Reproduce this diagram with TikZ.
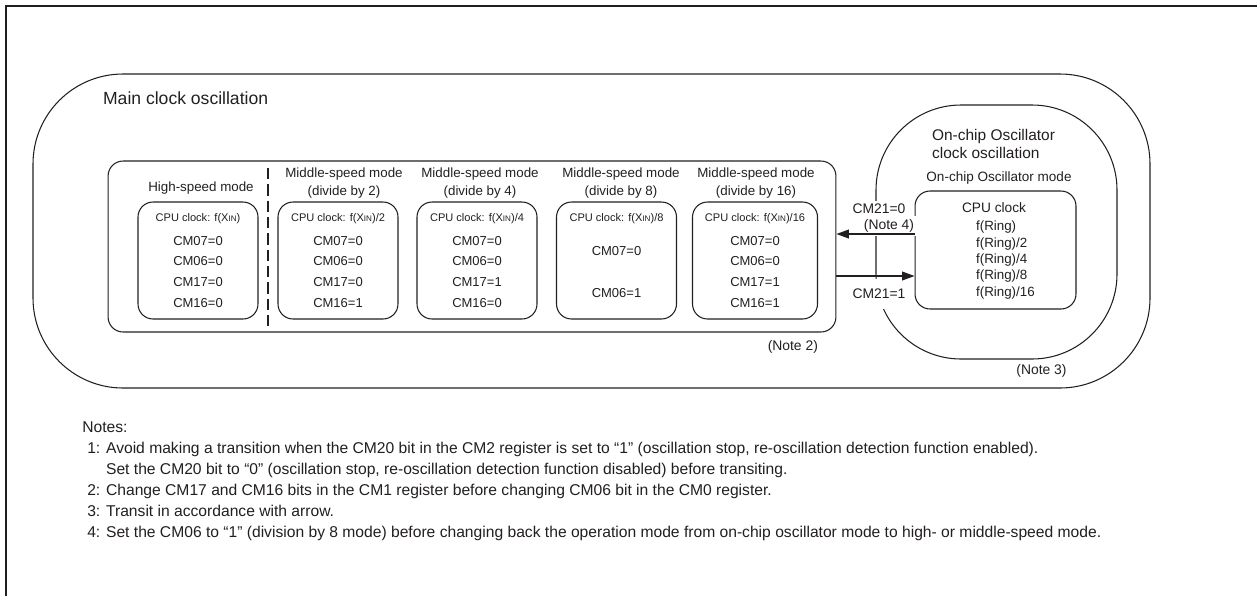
\documentclass[tikz,border=0pt]{standalone}
\usepackage{fontspec}
\setmainfont{Liberation Sans}
\usetikzlibrary{arrows.meta}
\definecolor{ink}{HTML}{231F20}
\newcommand{\fsz}[2]{\fontsize{#1}{#2}\selectfont}
\newcommand{\xin}{X{\fontsize{4.6}{5}\selectfont IN}}
\newcommand{\cpu}[1]{{\fsz{6.3}{11.9}CPU clock: f(\xin)#1}}

\begin{document}
\begin{tikzpicture}[x=0.02cm,y=-0.02cm,
		every node/.style={text=ink,inner sep=1pt},
		line/.style={draw=ink,line width=0.6pt},
		mode/.style={line,rounded corners=0.3cm,minimum width=2.4cm,minimum height=2.34cm,align=center,font=\fsz{7.4}{11.9}},
		title/.style={align=center,font=\fsz{7.6}{10.2}},
		lbl/.style={font=\fsz{7.9}{9.5}},
		arr/.style={line,-{Triangle[length=7pt,width=5pt]}}]
		\useasboundingbox (0,0) rectangle (1257,596);
		\draw [ink,line width=1.4pt] (6,596) -- (6,6) -- (1257,6);

		% main clock oscillation
		\draw [line,rounded corners=1.8cm] (33,74) rectangle (1150,388);
		\node (mainlbl) [anchor=west,font=\fsz{10}{12}] at (101,98) {Main clock oscillation};
		\node (modes) [line,rounded corners=0.3cm,minimum width=14.56cm,minimum height=3.42cm] at (472,246.5) {};

		\node (hs) [title] at (201,188) {High-speed mode};
		\node (ms2) [title] at (344,183) {Middle-speed mode\\(divide by 2)};
		\node (ms4) [title] at (480,183) {Middle-speed mode\\(divide by 4)};
		\node (ms8) [title] at (621,183) {Middle-speed mode\\(divide by 8)};
		\node (ms16) [title] at (756,183) {Middle-speed mode\\(divide by 16)};

		\node (b1) [mode] at (198,260.5) {\cpu{}\\[1.7pt]CM07=0\\CM06=0\\CM17=0\\CM16=0};
		\node (b2) [mode] at (338,260.5) {\cpu{/2}\\[1.7pt]CM07=0\\CM06=0\\CM17=0\\CM16=1};
		\node (b3) [mode] at (477,260.5) {\cpu{/4}\\[1.7pt]CM07=0\\CM06=0\\CM17=1\\CM16=0};
		\node (b4) [mode] at (616.5,260.5) {\cpu{/8}\\[7.9pt]CM07=0\\[11.9pt]CM06=1\\[-6.2pt]\mbox{}};
		\node (b5) [mode,minimum width=2.5cm] at (755,260.5) {\cpu{/16}\\[1.7pt]CM07=0\\CM06=0\\CM17=1\\CM16=1};
		\draw [ink,line width=1.1pt,dash pattern=on 6.5pt off 2.8pt] (268,168) -- (268,326);
		\node (note2) [lbl,anchor=east] at (820,347) {(Note 2)};

		% on-chip oscillator
		\draw [line,rounded corners=1.7cm] (876,105) rectangle (1117,359);
		\node (ringlbl) [anchor=west,align=left,font=\fsz{8.8}{10.2}] at (930,144) {On-chip Oscillator\\clock oscillation};
		\node (ringttl) [font=\fsz{7.7}{9}] at (999,178) {On-chip Oscillator mode};
		\node (ring) [line,rounded corners=0.3cm,minimum width=3.22cm,minimum height=2.36cm] at (995.5,250) {};
		\node (ringcpu) [font=\fsz{7.8}{9}] at (994,208) {CPU clock};
		\node (ringdiv) [anchor=west,align=left,font=\fsz{7.6}{9.35}] at (974,260) {f(Ring)\\f(Ring)/2\\f(Ring)/4\\f(Ring)/8\\f(Ring)/16};
		\node (note3) [lbl] at (1041.5,371) {(Note 3)};

		\node (cm0) [lbl,fill=white,inner sep=2pt] at (879,209) {CM21=0};
		\node (note4) [lbl,fill=white,inner sep=2pt] at (889,226) {(Note 4)};
		\node (cm1) [lbl,fill=white,inner xsep=2pt,inner ysep=5.5pt] at (879,294) {CM21=1};
		\draw [arr] (ring.west |- 0,234) -- (modes.east |- 0,234);
		\draw [arr] (modes.east |- 0,276) -- (ring.west |- 0,276);

		% notes
		\node (notes) [anchor=base west,inner sep=0,font=\fsz{8.9}{11.9}] at (82,432.5) {\begin{tabular}[t]{@{\hspace{2.8pt}}l@{ }l@{}}
			\multicolumn{2}{@{}l@{}}{Notes:}\\
			1: & Avoid making a transition when the CM20 bit in the CM2 register is set to “1” (oscillation stop, re-oscillation detection function enabled).\\
			& Set the CM20 bit to “0” (oscillation stop, re-oscillation detection function disabled) before transiting.\\
			2: & Change CM17 and CM16 bits in the CM1 register before changing CM06 bit in the CM0 register.\\
			3: & Transit in accordance with arrow.\\
			4: & Set the CM06 to “1” (division by 8 mode) before changing back the operation mode from on-chip oscillator mode to high- or middle-speed mode.
		\end{tabular}};
	\end{tikzpicture}
\end{document}
